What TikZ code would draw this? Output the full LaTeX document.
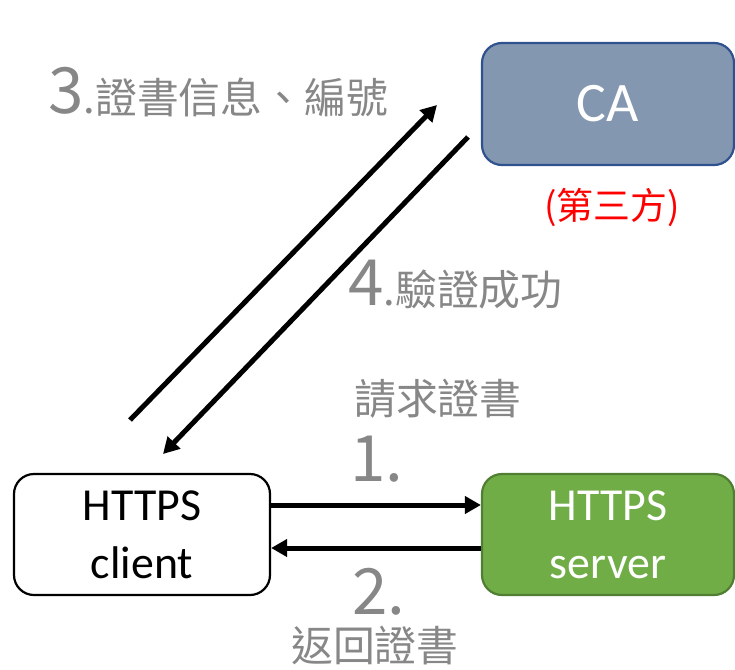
\documentclass[tikz,border=0pt]{standalone}
\usepackage{fontspec}
\setmainfont{Carlito}
\newfontfamily\cjk{Noto Sans CJK TC}
\usetikzlibrary{arrows.meta}
\definecolor{cafill}{HTML}{8497B0}
\definecolor{cadraw}{HTML}{2F528F}
\definecolor{srvfill}{HTML}{70AD47}
\definecolor{srvdraw}{HTML}{507E32}
\definecolor{labelgray}{HTML}{878787}
\definecolor{thirdred}{HTML}{FF0000}
\newcommand{\stepnum}[1]{{\fontsize{64}{64}\selectfont #1}}
\begin{document}
\begin{tikzpicture}[x=1bp,y=-1bp,
  box/.style={rounded corners=20bp, line width=2.2bp, minimum width=252bp,
    minimum height=121bp, inner sep=0pt, align=center,
    font=\fontsize{46}{58}\selectfont},
  conn/.style={line width=5bp, -{Triangle[length=16bp,width=17bp]}},
  steplabel/.style={text=labelgray, inner sep=0pt, anchor=base west,
    font=\cjk\fontsize{42}{42}\selectfont}]
\useasboundingbox (0,0) rectangle (735,670);

% boxes
\node[box, draw=black, fill=white, minimum width=256bp] (client) at (142,534.5) {HTTPS\\client};
\node[box, draw=srvdraw, fill=srvfill, text=white] (server) at (608,534.5) {HTTPS\\server};
\node[box, draw=cadraw, fill=cafill, text=white, minimum height=122bp,
  font=\fontsize{56}{56}\selectfont] (ca) at (608,104) {CA};
\node[text=thirdred, inner sep=0pt, font=\cjk\fontsize{37}{37}\selectfont]
  (third) at (612,207) {(第三方)};

% request and reply between client and server
\draw[conn] ([yshift=29.5bp]client.east) -- ([yshift=29.5bp]server.west);
\draw[conn] ([yshift=-13.5bp]server.west) -- ([yshift=-13.5bp]client.east);

% exchange between client and the CA
\coordinate (upstart) at (130,420);
\coordinate (uptip) at (437,105);
\coordinate (downstart) at (468,137);
\coordinate (downtip) at (163,454);
\draw[conn] (upstart) -- (uptip);
\draw[conn] (downstart) -- (downtip);

% step labels
\node[steplabel] (l3) at (48,114) {\stepnum{3}.證書信息、編號};
\node[steplabel] (l4) at (348,305) {\stepnum{4}.驗證成功};
\node[steplabel] (l1t) at (354,414) {請求證書};
\node[steplabel] (l1) at (350,481) {\stepnum{1.}};
\node[steplabel] (l2) at (352,614) {\stepnum{2.}};
\node[steplabel] (l2t) at (291,661) {返回證書};
\end{tikzpicture}
\end{document}
